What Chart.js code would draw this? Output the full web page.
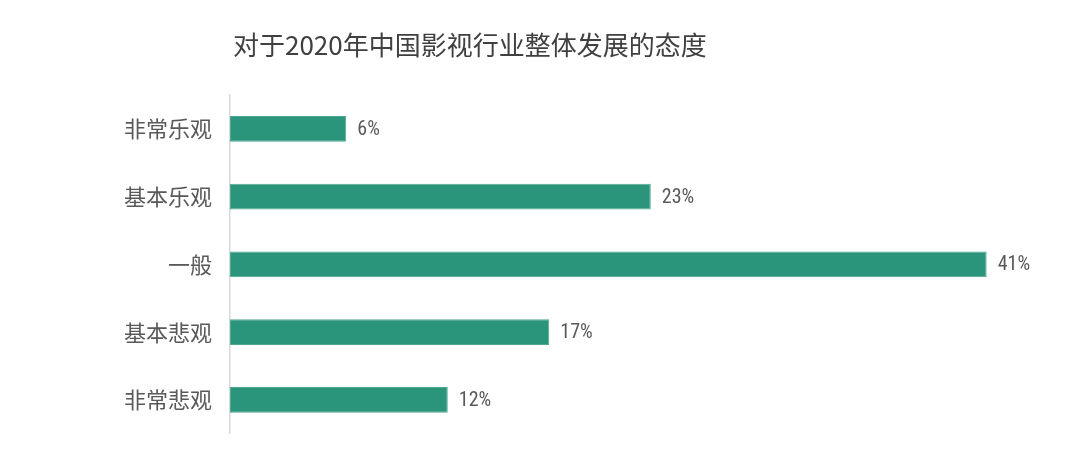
<!DOCTYPE html>
<html>
<head>
<meta charset="utf-8">
<script src="https://cdn.jsdelivr.net/npm/chart.js@4/dist/chart.umd.min.js"></script>
<style>
  html, body { margin: 0; padding: 0; background: #ffffff; }
  #wrap { width: 1080px; height: 465px; }
</style>
</head>
<body>
<div id="wrap"><canvas id="attitudeChart" width="1080" height="465"></canvas></div>
<script>
const chartTitle = "对于2020年中国影视行业整体发展的态度";
const categories = ["非常乐观", "基本乐观", "一般", "基本悲观", "非常悲观"];
const shares = [6.3, 22.8, 41.0, 17.3, 11.8];
const shareLabels = ["6%", "23%", "41%", "17%", "12%"];

const BAR_COLOR = "#2a957a";
const TEXT_COLOR = "#595959";

// title sits over the plot, flush with the axis line
const titlePlugin = {
    id: "leftTitle",
    afterDraw(chart) {
        const ctx = chart.ctx;
        ctx.save();
        ctx.font = "26px 'Noto Sans CJK SC', 'Noto Sans', sans-serif";
        ctx.fillStyle = "#404040";
        ctx.textAlign = "left";
        ctx.textBaseline = "middle";
        ctx.fillText(chartTitle, chart.chartArea.left + 3, 45);
        ctx.restore();
    }
};

// value labels just past the end of each bar
const valueLabels = {
    id: "valueLabels",
    afterDatasetsDraw(chart) {
        const ctx = chart.ctx;
        const meta = chart.getDatasetMeta(0);
        ctx.save();
        ctx.font = "20px 'Liberation Sans Narrow', 'Roboto Condensed', 'Liberation Sans', sans-serif";
        ctx.fillStyle = TEXT_COLOR;
        ctx.textAlign = "left";
        ctx.textBaseline = "middle";
        meta.data.forEach((bar, i) => {
            ctx.fillText(shareLabels[i], bar.x + 11, bar.y + 1);
        });
        ctx.restore();
    }
};

const chart = new Chart(document.getElementById("attitudeChart"), {
    type: "bar",
    data: {
        labels: categories,
        datasets: [{
            data: shares,
            backgroundColor: BAR_COLOR,
            borderColor: "#4fa88f",
            borderWidth: 1,
            borderSkipped: false,
            categoryPercentage: 1,
            barPercentage: 0.38
        }]
    },
    options: {
        indexAxis: "y",
        responsive: false,
        animation: false,
        devicePixelRatio: 1,
        layout: {
            padding: { left: 0, right: 38, top: 95, bottom: 23 }
        },
        plugins: {
            legend: { display: false },
            tooltip: { enabled: false }
        },
        scales: {
            x: {
                display: false,
                min: 0,
                max: 44
            },
            y: {
                afterFit(scale) {
                    scale.width = 230;
                },
                grid: { display: true, drawOnChartArea: false, drawTicks: false, color: "rgba(0,0,0,0)" },
                border: { display: true, color: "#d9d9d9", width: 1.5 },
                ticks: {
                    padding: 18,
                    color: TEXT_COLOR,
                    font: { family: "'Noto Sans CJK SC', 'Noto Sans', sans-serif", size: 22 }
                }
            }
        }
    },
    plugins: [titlePlugin, valueLabels]
});
</script>
</body>
</html>
